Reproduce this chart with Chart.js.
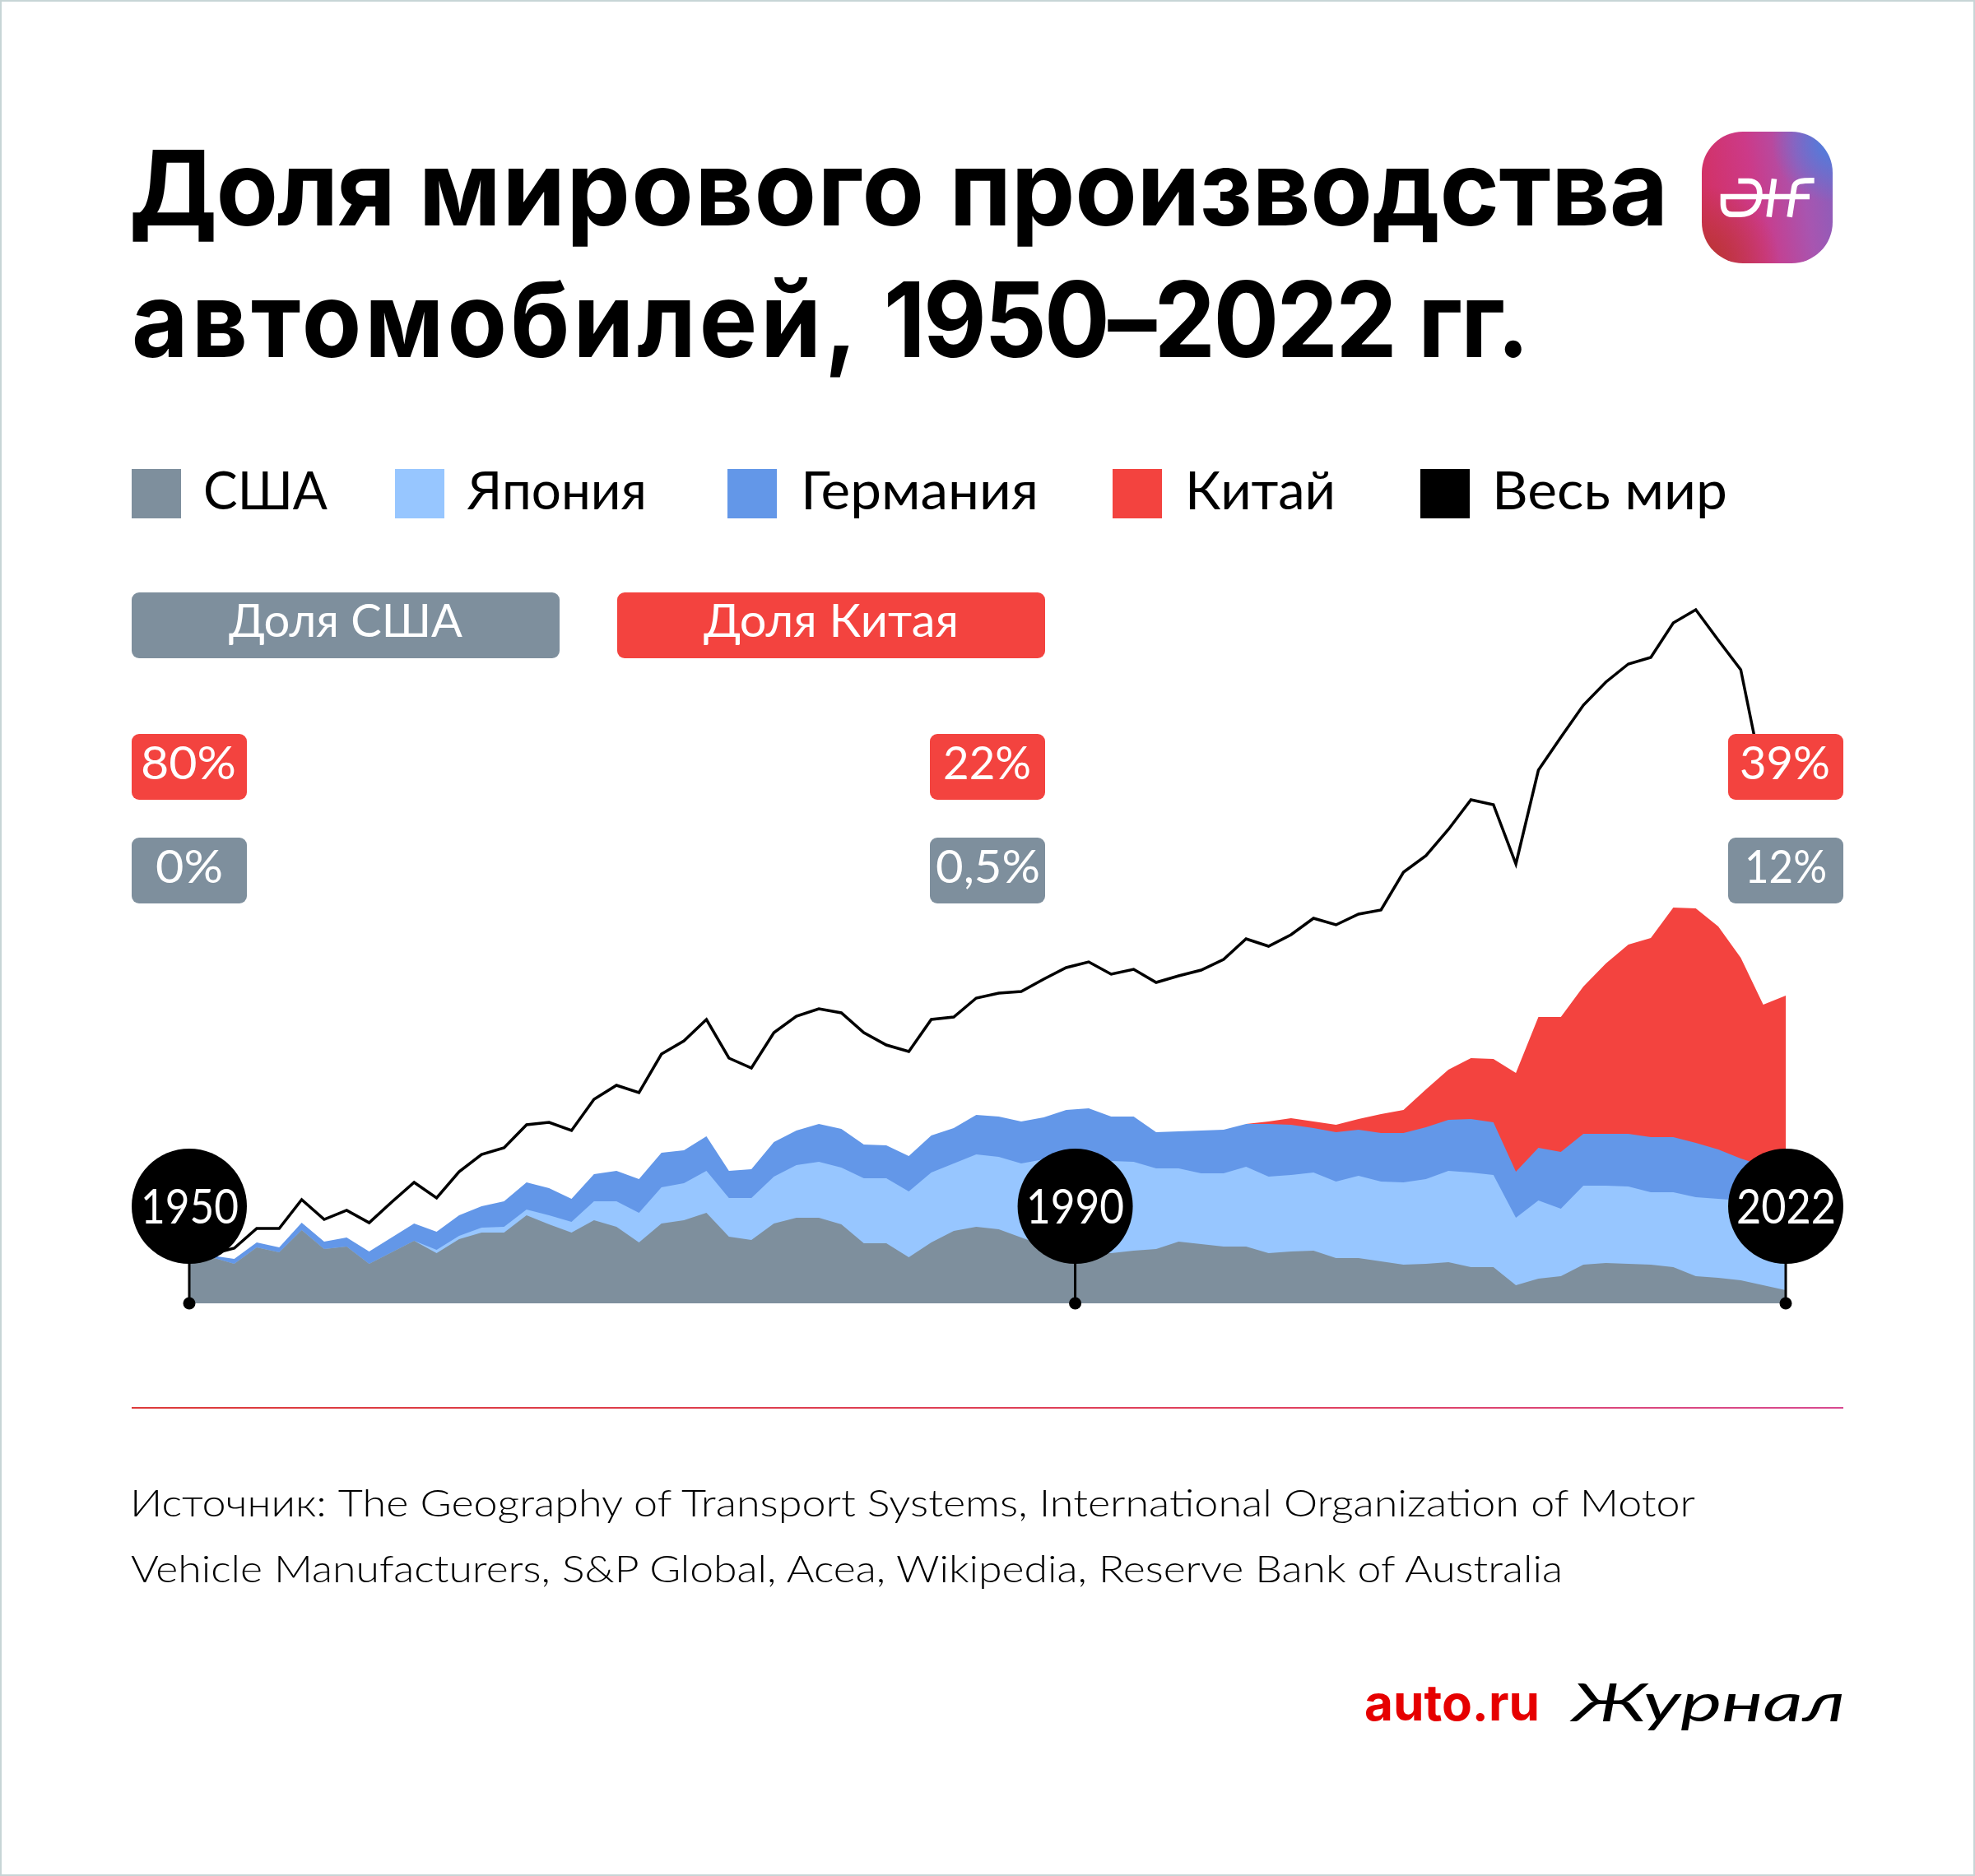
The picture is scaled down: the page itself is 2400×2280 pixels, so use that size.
<!DOCTYPE html>
<html lang="ru"><head><meta charset="utf-8">
<title>Доля мирового производства автомобилей</title>
<script src="https://cdn.jsdelivr.net/npm/chart.js@4/dist/chart.umd.min.js"></script>
<style>
html,body{margin:0;padding:0;background:#fff}
#page{position:relative;width:2400px;height:2280px;overflow:hidden;background:#fff}
#frame{position:absolute;left:0;top:0;width:2396px;height:2276px;border:2px solid #c7d5d6;z-index:5;pointer-events:none}
canvas{position:absolute;left:0;top:0;z-index:1}
.box{position:absolute;z-index:2}
.t{position:absolute;z-index:3;white-space:pre;font-family:Lato,"Noto Sans",sans-serif;transform-origin:0 0;line-height:1.2}
#icon{position:absolute;left:2068px;top:160px;width:159px;height:160px;border-radius:50px;z-index:2;overflow:hidden;
background:radial-gradient(circle at 100% 8%,#4a80e0 0,rgba(74,128,224,0) 34%),radial-gradient(circle at 0 100%,#b8352f 0,rgba(184,53,47,0) 42%),linear-gradient(80deg,#d42f5c 0,#cc3a88 42%,#a855b0 74%,#8560bd 100%)}
#rule{position:absolute;left:160px;top:1710px;width:2080px;height:2px;z-index:2;background:linear-gradient(90deg,#dd3a3a,#e04060 70%,#d84a90)}
</style></head><body>
<div id="page">
<canvas id="c" width="2400" height="2280"></canvas>
<div id="frame"></div>
<div id="icon"><svg width="159" height="160" viewBox="85 60 477 480"><g fill="none" stroke="#fff" stroke-width="20">
<path d="M218 240H255C285 240 296 262 296 285C296 335 265 362 225 362H195C172 362 163 345 163 325V297H478"/>
<path d="M349 232L330 371M405 371L422 262C426 240 445 238 495 238"/></g></svg></div>
<div id="rule"></div>
</div>
<script>
// Categories: the source series has no separate 2021 point
const years=[1950,1951,1952,1953,1954,1955,1956,1957,1958,1959,1960,1961,1962,1963,1964,1965,1966,1967,1968,1969,1970,1971,1972,1973,1974,1975,1976,1977,1978,1979,1980,1981,1982,1983,1984,1985,1986,1987,1988,1989,1990,1991,1992,1993,1994,1995,1996,1997,1998,1999,2000,2001,2002,2003,2004,2005,2006,2007,2008,2009,2010,2011,2012,2013,2014,2015,2016,2017,2018,2019,2020,2022];
// Top edge of each layered band (estimated units)
const usaLevel=[5.0,5.6,4.8,6.8,6.2,8.9,6.6,6.9,4.8,6.2,7.6,6.1,7.8,8.6,8.6,10.7,9.6,8.6,10.1,9.3,7.4,9.7,10.1,11.0,8.1,7.7,9.7,10.4,10.4,9.6,7.3,7.3,5.6,7.4,8.8,9.3,9.0,8.0,7.0,6.5,6.2,6.1,6.4,6.6,7.5,7.2,6.9,6.9,6.1,6.3,6.4,5.5,5.5,5.1,4.7,4.8,5.0,4.4,4.4,2.2,3.0,3.3,4.7,4.9,4.8,4.7,4.4,3.3,3.1,2.8,2.2,1.6];
const japanLevel=[5.0,5.6,4.8,6.8,6.2,8.9,6.6,6.9,4.8,6.2,7.6,6.5,8.2,9.2,9.3,11.4,10.7,9.9,12.4,12.4,11.0,14.1,14.6,16.1,12.8,12.8,15.4,16.8,17.2,16.5,15.2,15.2,13.6,15.9,17.0,18.1,17.8,17.0,17.5,17.7,17.5,17.3,17.2,16.4,16.4,15.8,15.8,16.6,15.4,15.6,15.9,14.8,15.5,14.8,14.7,15.1,16.1,15.9,15.6,10.4,12.5,11.5,14.3,14.3,14.2,13.5,13.5,12.9,12.7,12.5,12.2,11.9];
const germanyLevel=[5.2,5.8,5.4,7.4,6.8,9.8,7.5,8.0,6.3,8.0,9.7,8.7,10.7,11.8,12.4,14.7,14.0,12.7,15.7,16.1,15.1,18.3,18.6,20.3,16.1,16.3,19.6,21.0,21.8,21.2,19.3,19.2,17.9,20.4,21.3,22.9,22.7,22.1,22.6,23.5,23.7,22.7,22.7,20.8,20.9,21.0,21.1,21.8,21.8,21.7,21.3,20.8,21.1,20.7,20.7,21.4,22.3,22.4,22.0,16.0,18.9,18.4,20.6,20.6,20.6,20.2,20.2,19.5,18.7,17.6,16.7,15.9];
const chinaLevel=[0,0,0,0,0,0,0,0,0,0,0,0,0,0,0,0,0,0,0,0,0,0,0,0,0,0,0,0,0,0,0,0,0,0,0,0,0,0,0,0,0,0,0,0,0,0,0,21.8,22.1,22.5,22.1,21.7,22.4,23.0,23.5,26.0,28.4,29.8,29.7,28.0,34.8,34.8,38.5,41.3,43.6,44.4,48.1,48.0,45.8,42.0,36.3,37.4];
const worldLevel=[5.4,6.0,6.7,9.1,9.1,12.6,10.2,11.3,9.8,12.3,14.7,12.8,16.0,18.1,18.9,21.7,22.0,21.0,24.8,26.5,25.6,30.3,31.9,34.5,29.8,28.6,32.9,34.9,35.8,35.3,32.9,31.4,30.6,34.5,34.8,37.1,37.7,37.9,39.4,40.8,41.5,40.0,40.6,39.0,39.8,40.5,41.8,44.3,43.4,44.8,46.8,46.0,47.3,47.8,52.4,54.4,57.6,61.2,60.6,53.4,64.8,68.8,72.7,75.5,77.7,78.5,82.7,84.3,80.6,77.0,63.6,65.1];
const legendNames=['США','Япония','Германия','Китай','Весь мир'];
const legendColors=['#7e8f9d','#97c6ff','#6397e8','#f3433f','#000000'];
const markerLabels=['1950','1990','2022'];
const markerPlaces=[0,39.4,71];
const chinaShare=['80%','22%','39%'];
const usaShare=['0%','0,5%','12%'];

const page=document.getElementById('page');
function rect(x,y,w,h,bg,r){const d=document.createElement('div');d.className='box';d.style.cssText=`left:${x}px;top:${y}px;width:${w}px;height:${h}px;background:${bg};border-radius:${r||0}px`;page.appendChild(d);return d;}
function txt(s,x0,x1,base,size,weight,color,extra,html){
  const d=document.createElement('div');d.className='t';
  if(html)d.innerHTML=html;else d.textContent=s;
  d.style.cssText=`left:0;top:0;font-size:${size}px;font-weight:${weight};color:${color};${extra||''}`;
  const m=document.createElement('span');m.style.cssText='display:inline-block;width:0;height:0';d.appendChild(m);
  page.appendChild(d);
  const b=m.getBoundingClientRect().bottom-d.getBoundingClientRect().top;
  const w=d.getBoundingClientRect().width;
  d.style.left=x0+'px';d.style.top=(base-b)+'px';
  d.style.transform=`scaleX(${(x1-x0)/w})`;
  return d;
}
const SANS='font-family:Inter,sans-serif;';
const ls=(s,v)=>`<span style="letter-spacing:${v}px">${s}</span>`;
txt('',157,2027,274,127,700,'#000',SANS,ls('Доля',-1.5)+' '+ls('мирового',1.3)+' '+ls('производства',-0.4));
txt('',160,1856,434,127,700,'#000',SANS,ls('автомобилей,',4.4)+' '+ls('1950–2022',-2.9)+' '+ls('гг.',-2.6));

const legendX=[160,480,884,1352,1726];
const legendT=[[247,398],[568,786],[973,1262],[1440,1623],[1813,2099]];
legendNames.forEach((n,i)=>{rect(legendX[i],570,60,60,legendColors[i]);txt(n,legendT[i][0],legendT[i][1],619,63,400,'#000');});

rect(160,720,520,80,'#7e8f9d',9);rect(750,720,520,80,'#f3433f',9);
txt('Доля США',278,562,774,56,400,'#fff');
txt('Доля Китая',855,1165,774,56,400,'#fff');
const colX=[160,1130,2100];
const rT=[[171,287],[1146,1253],[2114,2224]];
const gT=[[189,271],[1137,1264],[2120,2220]];
colX.forEach((x,i)=>{
  rect(x,892,140,80,'#f3433f',9);
  rect(x,1018,140,80,'#7e8f9d',9);
  txt(chinaShare[i],rT[i][0],rT[i][1],947,57,400,'#fff');
  txt(usaShare[i],gT[i][0],gT[i][1],1073,57,400,'#fff');
});
txt('Источник: The Geography of Transport Systems, International Organization of Motor',158,2060,1843,45,300,'#000');
txt('Vehicle Manufacturers, S&P Global, Acea, Wikipedia, Reserve Bank of Australia',159,1899,1923,45,300,'#000');
txt('auto.ru',1658,1871,2091,60,700,'#e60000',SANS);
txt('Журнал',1910,2242,2092,64,400,'#000','font-style:italic;');

const markerPlugin={id:'markers',afterDatasetsDraw(ch){
  const c=ch.ctx,xs=ch.scales.x,base=ch.scales.y.getPixelForValue(0);
  c.save();c.fillStyle='#000';c.strokeStyle='#000';c.lineWidth=3;
  markerPlaces.forEach(p=>{
    const x=xs.getPixelForValue(p);
    c.beginPath();c.moveTo(x,base);c.lineTo(x,base-118);c.stroke();
    c.beginPath();c.arc(x,base,7.5,0,Math.PI*2);c.fill();
    c.beginPath();c.arc(x,base-118,70,0,Math.PI*2);c.fill();
  });
  c.restore();
}};
const band=(label,data,color,order)=>({label,data,borderColor:color,backgroundColor:color,borderWidth:0,pointRadius:0,tension:0,fill:'origin',order,clip:false});
const chart=new Chart(document.getElementById('c'),{
  type:'line',
  data:{labels:years,datasets:[
    band('США',usaLevel,legendColors[0],1),
    band('Япония',japanLevel,legendColors[1],2),
    band('Германия',germanyLevel,legendColors[2],3),
    band('Китай',chinaLevel,legendColors[3],4),
    {label:'Весь мир',data:worldLevel,borderColor:'#000',borderWidth:3.5,borderJoinStyle:'miter',pointRadius:0,tension:0,fill:false,order:5,clip:false}
  ]},
  options:{responsive:false,animation:false,devicePixelRatio:1,
    layout:{padding:{left:230,right:230,top:584,bottom:696}},
    plugins:{legend:{display:false},title:{display:false},tooltip:{enabled:false}},
    scales:{x:{type:'category',display:false,offset:false},y:{display:false,min:0,max:100}}},
  plugins:[markerPlugin]
});
const circleT=[[171,290],[1247,1366],[2110,2231]];
markerLabels.forEach((l,i)=>txt(l,circleT[i][0],circleT[i][1],1487,58,400,'#fff'));
</script>
</body></html>
